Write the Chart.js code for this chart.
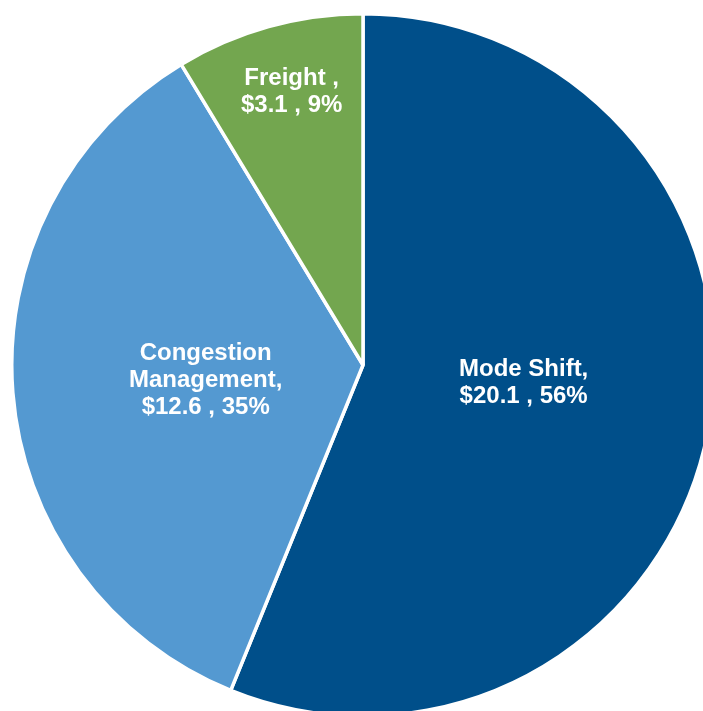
<!DOCTYPE html>
<html>
<head>
<meta charset="utf-8">
<script src="https://cdn.jsdelivr.net/npm/chart.js@4/dist/chart.umd.min.js"></script>
<style>
  html, body { margin: 0; padding: 0; background: #ffffff; width: 703px; height: 711px; overflow: hidden; position: relative; }
  #wrap { position: absolute; left: 10px; top: 12px; width: 706px; height: 706px; }
</style>
</head>
<body>
<div id="wrap"><canvas id="c"></canvas></div>
<script>
const categories = ["Mode Shift", "Congestion Management", "Freight"];
const values = [20.1, 12.6, 3.1];
const percents = [56, 35, 9];
const labelLines = [
  ["Mode Shift,", "$20.1 , 56%"],
  ["Congestion", "Management,", "$12.6 , 35%"],
  ["Freight ,", "$3.1 , 9%"]
];
const colors = ["#004F8A", "#5499D1", "#73A64F"];

const labelPlugin = {
  id: 'sliceLabels',
  afterDatasetsDraw(chart, args, opts) {
    const ctx = chart.ctx;
    const meta = chart.getDatasetMeta(0);
    ctx.save();
    ctx.font = opts.font;
    ctx.fillStyle = opts.color;
    ctx.textAlign = 'center';
    ctx.textBaseline = 'middle';
    meta.data.forEach((arc, i) => {
      const p = arc.getProps(['x','y','startAngle','endAngle','outerRadius'], true);
      const mid = (p.startAngle + p.endAngle) / 2 + (opts.angleShift[i] || 0);
      const r = p.outerRadius * opts.radiusFrac[i];
      const cx = p.x + Math.cos(mid) * r;
      const cy = p.y + Math.sin(mid) * r;
      const lines = labelLines[i];
      const lh = opts.lineHeight;
      const y0 = cy - (lines.length - 1) * lh / 2;
      lines.forEach((t, k) => ctx.fillText(t, cx, y0 + k * lh));
    });
    ctx.restore();
  }
};

new Chart(document.getElementById('c'), {
  type: 'pie',
  data: {
    labels: categories,
    datasets: [{
      data: values,
      backgroundColor: colors,
      borderColor: '#ffffff',
      borderWidth: 3.5
    }]
  },
  options: {
    responsive: true,
    maintainAspectRatio: false,
    animation: false,
    layout: { padding: 0 },
    plugins: {
      legend: { display: false },
      tooltip: { enabled: false },
      sliceLabels: {
        font: 'bold 24px "Liberation Sans", Arial, sans-serif',
        color: '#ffffff',
        lineHeight: 27,
        radiusFrac: [0.46, 0.45, 0.805],
        angleShift: [-0.085, -0.018, 0.017]
      }
    }
  },
  plugins: [labelPlugin]
});
</script>
</body>
</html>
